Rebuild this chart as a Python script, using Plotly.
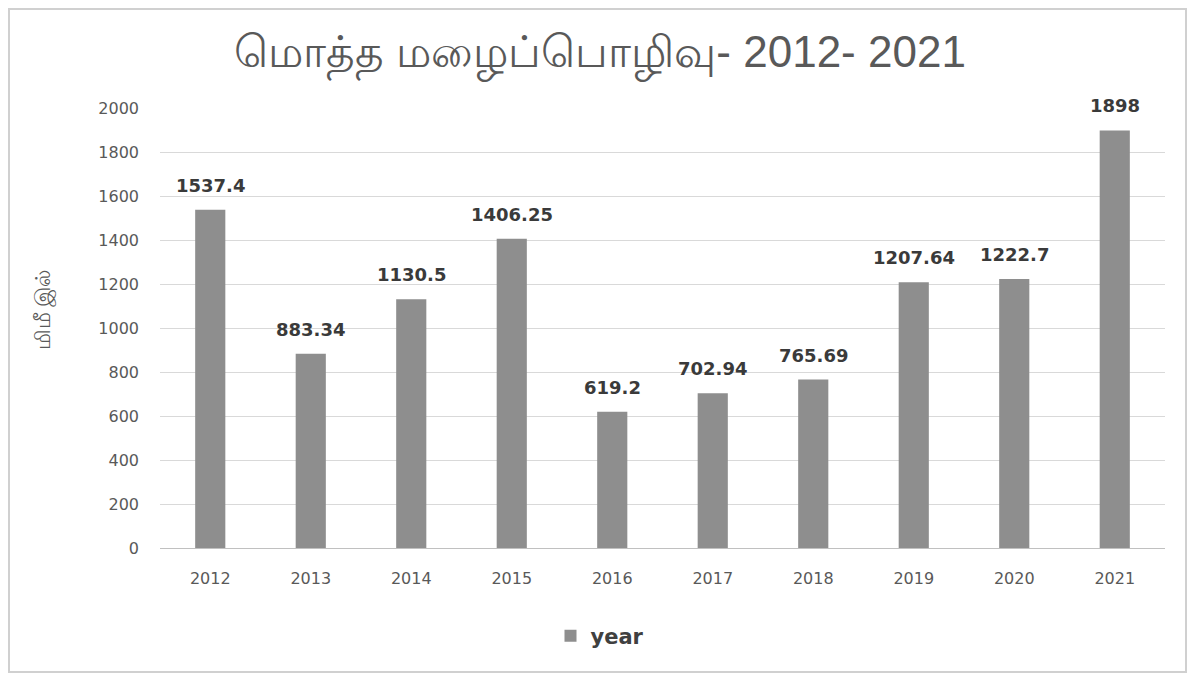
import plotly.graph_objects as go

years = ["2012", "2013", "2014", "2015", "2016", "2017", "2018", "2019", "2020", "2021"]
rainfall = [1537.4, 883.34, 1130.5, 1406.25, 619.2, 702.94, 765.69, 1207.64, 1222.7, 1898]
labels = ["1537.4", "883.34", "1130.5", "1406.25", "619.2", "702.94", "765.69", "1207.64", "1222.7", "1898"]

W, H = 1180, 665
L, R, T, B = 152, 23, 100, 125
PW, PH = W - L - R, H - T - B

fig = go.Figure()
fig.add_trace(go.Bar(
    x=years, y=rainfall, name="<b>year</b>",
    marker=dict(color="#8e8e8e", line=dict(width=0)),
))

# data labels placed at each bar's category index
annotations = [
    dict(x=i, y=v, xref="x", yref="y", text="<b>" + lb + "</b>", showarrow=False,
         yanchor="bottom", yshift=12,
         font=dict(family="DejaVu Sans", size=18, color="#3a3a3a"))
    for i, (v, lb) in enumerate(zip(rainfall, labels))
]
annotations.append(dict(
    text="மிமீ இல்", xref="paper", yref="paper", showarrow=False, textangle=-90,
    x=(34 - L) / PW, y=(H - B - 302) / PH, xanchor="center", yanchor="middle",
    font=dict(family="Noto Sans", size=21, color="#595959")))

fig.update_layout(
    width=W, height=H,
    paper_bgcolor="white", plot_bgcolor="white",
    margin=dict(l=L, r=R, t=T, b=B),
    bargap=0.70,
    title=dict(text="மொத்த மழைப்பொழிவு- 2012- 2021", x=(592) / W, xanchor="center",
               y=1 - 44 / H, yanchor="middle",
               font=dict(family="Liberation Sans, Noto Sans", size=44, color="#595959")),
    xaxis=dict(type="category", range=[-0.5, len(years) - 0.5], showgrid=False, showline=False,
               ticks="", ticklabelstandoff=19,
               tickfont=dict(family="DejaVu Sans", size=16, color="#595959")),
    yaxis=dict(range=[0, 2000], dtick=200, showgrid=True, gridcolor="#d9d9d9", gridwidth=1,
               zeroline=True, zerolinecolor="#c0c0c0", zerolinewidth=1,
               ticklabelstandoff=20,
               tickfont=dict(family="DejaVu Sans", size=16, color="#595959")),
    legend=dict(orientation="h", x=(592 - L) / PW, xanchor="center",
                y=-(628 - (H - B)) / PH, yanchor="middle",
                font=dict(family="DejaVu Sans", size=21, color="#404040")),
    showlegend=True,
    annotations=annotations,
    shapes=[dict(type="rect", xref="paper", yref="paper",
                 x0=-(L - 1) / PW, x1=(W - L - 2) / PW, y0=-(B - 1) / PH, y1=(T - 1) / PH + 1,
                 line=dict(color="#d0d0d0", width=2), fillcolor="rgba(0,0,0,0)", layer="below")],
)
fig.update_yaxes(automargin=False)

fig.write_html("out.html")
